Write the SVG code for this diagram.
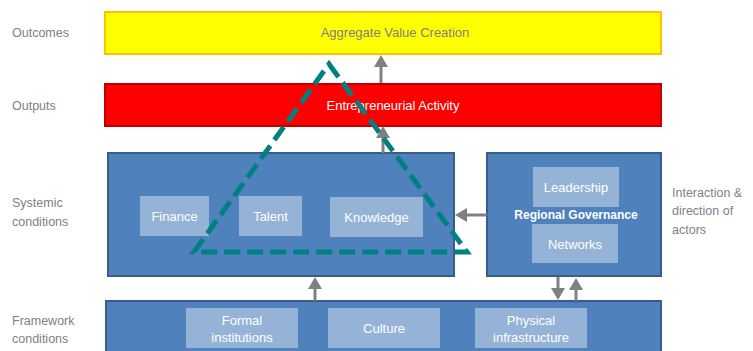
<svg xmlns="http://www.w3.org/2000/svg" width="753" height="351" viewBox="0 0 753 351">
<defs>
<style>
text{font-family:"Liberation Sans",Arial,sans-serif;font-size:13px}
.lbl{fill:#7f7f7f;font-size:12.5px}
.w{fill:#ffffff;text-anchor:middle}
.blue{fill:#4f81bd;stroke:#385d8a;stroke-width:2}
.inner{fill:#95b3d7}
.arr{stroke:#808080;stroke-width:3;fill:none}
.head{fill:#808080}
</style>
</defs>
<g id="labels">
<text class="lbl" x="12" y="37">Outcomes</text>
<text class="lbl" x="12" y="110">Outputs</text>
<text class="lbl" x="12" y="207">Systemic</text>
<text class="lbl" x="12" y="226">conditions</text>
<text class="lbl" x="12" y="325">Framework</text>
<text class="lbl" x="12" y="343">conditions</text>
<text class="lbl" x="672" y="197">Interaction &amp;</text>
<text class="lbl" x="672" y="215">direction of</text>
<text class="lbl" x="672" y="234">actors</text>
</g>
<g id="outcomes">
<rect x="105" y="12" width="556" height="42" fill="#ffff00" stroke="#ffc000" stroke-width="2"/>
<text x="395" y="37" fill="#808080" text-anchor="middle">Aggregate Value Creation</text>
</g>
<g id="outputs">
<rect x="105" y="84" width="556" height="42" fill="#ff0000" stroke="#c00000" stroke-width="2"/>
<text x="393" y="110" class="w">Entrepreneurial Activity</text>
</g>
<g id="systemic">
<rect class="blue" x="108" y="153" width="346" height="123"/>
<rect class="inner" x="140" y="196" width="69" height="40"/>
<text x="174.5" y="221" class="w">Finance</text>
<rect class="inner" x="239" y="196" width="63" height="40"/>
<text x="270.5" y="221" class="w">Talent</text>
<rect class="inner" x="330" y="197" width="93" height="40"/>
<text x="376.5" y="222" class="w">Knowledge</text>
</g>
<g id="governance">
<rect class="blue" x="487" y="153" width="174" height="123"/>
<rect class="inner" x="533" y="167" width="86" height="40"/>
<text x="576" y="192" class="w">Leadership</text>
<text x="576" y="219" class="w" style="font-weight:bold;font-size:12px">Regional Governance</text>
<rect class="inner" x="532" y="224" width="86" height="39"/>
<text x="575" y="249" class="w">Networks</text>
</g>
<g id="framework">
<rect class="blue" x="106" y="301" width="555" height="55"/>
<rect class="inner" x="186" y="308" width="112" height="40"/>
<text x="242" y="325" class="w">Formal</text>
<text x="242" y="342" class="w">institutions</text>
<rect class="inner" x="328" y="308" width="112" height="40"/>
<text x="384" y="333" class="w">Culture</text>
<rect class="inner" x="475" y="308" width="112" height="40"/>
<text x="531" y="325" class="w">Physical</text>
<text x="531" y="342" class="w">infrastructure</text>
</g>
<g id="connectors">
<line class="arr" x1="381" y1="83" x2="381" y2="64"/>
<polygon class="head" points="374,67 388,67 381,55"/>
<line class="arr" x1="383" y1="153" x2="383" y2="135"/>
<polygon class="head" points="376,138 390,138 383,126"/>
<line class="arr" x1="487" y1="215" x2="465" y2="215"/>
<polygon class="head" points="467,208 467,222 455,215"/>
<line class="arr" x1="315" y1="301" x2="315" y2="286"/>
<polygon class="head" points="308,289 322,289 315,277"/>
<line class="arr" x1="558" y1="277" x2="558" y2="291"/>
<polygon class="head" points="551,288 565,288 558,300"/>
<line class="arr" x1="576" y1="301" x2="576" y2="287"/>
<polygon class="head" points="569,290 583,290 576,278"/>
</g>
<g id="triangle">
<path d="M329,64 L467,252 L194,252 Z" fill="none" stroke="#008080" stroke-width="5" stroke-dasharray="16,7" stroke-linejoin="miter"/>
</g>
</svg>
